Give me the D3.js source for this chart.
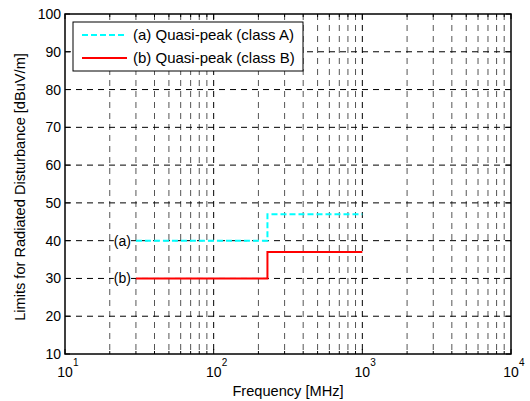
<!DOCTYPE html>
<head>
    <title>Radiated Disturbance Limits</title>
    <script src="https://d3js.org/d3.v7.min.js"></script>
    <style>
        body{
            margin: 0;
            background: #fff;
        }
        svg{
            display: block;
            font-family: "Liberation Sans", Arial, sans-serif;
        }
    </style>
</head>
<body>
    <svg id="chart" width="530" height="401"></svg>
    <script>
        // Limits (frequency in MHz, level in dBuV/m)
        var classAFreq = [30, 230, 230, 1000];
        var classALevel = [40, 40, 47, 47];
        var classBFreq = [30, 230, 230, 1000];
        var classBLevel = [30, 30, 37, 37];
        var yTicks = [10, 20, 30, 40, 50, 60, 70, 80, 90, 100];
        var xDecades = [1, 2, 3, 4];
        var legendLabels = ["(a) Quasi-peak (class A)", "(b) Quasi-peak (class B)"];

        var svg = d3.select("svg");
        // plot box (window.top is reserved, so prefixed names)
        var pL = 65, pR = 511, pT = 14, pB = 354;
        var fs = "14.6px";

        var x = d3.scaleLog().domain([10, 10000]).range([pL, pR]);
        var y = d3.scaleLinear().domain([10, 100]).range([pB, pT]);

        // all log grid positions (major + minor)
        var xGrid = [];
        for (var d = 1; d < 4; d++) {
            for (var m = 1; m < 10; m++) xGrid.push(m * Math.pow(10, d));
        }
        xGrid.push(10000);

        var g = svg.append("g");

        // vertical grid (skip the frame edges)
        g.selectAll(".vgrid")
            .data(xGrid.filter(v => v > 10 && v < 10000))
            .enter()
            .append("line")
                .attr("x1", v => x(v)).attr("x2", v => x(v))
                .attr("y1", pT).attr("y2", pB)
                .style("stroke", v => [100, 1000].includes(v) ? "#000" : "#555")
                .style("stroke-width", 1)
                .style("stroke-dasharray", "6,5");

        // horizontal grid
        g.selectAll(".hgrid")
            .data(yTicks.filter(v => v > 10 && v < 100))
            .enter()
            .append("line")
                .attr("x1", pL).attr("x2", pR)
                .attr("y1", v => y(v)).attr("y2", v => y(v))
                .style("stroke", "#000")
                .style("stroke-width", 1)
                .style("stroke-dasharray", "6,5");

        // tick marks inward on all four sides
        xGrid.forEach(function(v){
            var len = Number.isInteger(Math.log10(v)) ? 5 : 3;
            g.append("line").attr("x1", x(v)).attr("x2", x(v)).attr("y1", pB).attr("y2", pB - len).style("stroke", "#000");
            g.append("line").attr("x1", x(v)).attr("x2", x(v)).attr("y1", pT).attr("y2", pT + len).style("stroke", "#000");
        });
        yTicks.forEach(function(v){
            g.append("line").attr("x1", pL).attr("x2", pL + 5).attr("y1", y(v)).attr("y2", y(v)).style("stroke", "#000");
            g.append("line").attr("x1", pR).attr("x2", pR - 5).attr("y1", y(v)).attr("y2", y(v)).style("stroke", "#000");
        });

        // frame
        g.append("rect")
            .attr("x", pL).attr("y", pT)
            .attr("width", pR - pL).attr("height", pB - pT)
            .style("fill", "none")
            .style("stroke", "#000")
            .style("stroke-width", 1.5);

        // data lines
        var line = d3.line().x(d => x(d[0])).y(d => y(d[1]));

        g.append("path")
            .datum(d3.zip(classAFreq, classALevel))
            .attr("d", line)
            .style("fill", "none")
            .style("stroke", "#00ffff")
            .style("stroke-width", 2)
            .style("stroke-dasharray", "6,3");

        g.append("path")
            .datum(d3.zip(classBFreq, classBLevel))
            .attr("d", line)
            .style("fill", "none")
            .style("stroke", "#ff0000")
            .style("stroke-width", 2);

        // (a) / (b) labels with white background
        [["(a)", classAFreq[0], classALevel[0]], ["(b)", classBFreq[0], classBLevel[0]]].forEach(function(l){
            var t = g.append("text")
                .attr("x", x(l[1]) - 5).attr("y", y(l[2]) + 5)
                .attr("text-anchor", "end").style("font-size", "14px")
                .text(l[0]);
            var bb = t.node().getBBox();
            g.insert("rect", "text")
                .attr("x", bb.x).attr("y", bb.y + 1)
                .attr("width", bb.width).attr("height", bb.height - 2)
                .style("fill", "#fff");
        });

        // y tick labels
        g.selectAll(".ylab")
            .data(yTicks)
            .enter()
            .append("text")
                .attr("x", pL - 4).attr("y", v => y(v) + 5)
                .attr("text-anchor", "end")
                .style("font-size", "14px")
                .text(v => v);

        // x tick labels 10^n
        xDecades.forEach(function(p){
            var px = x(Math.pow(10, p));
            g.append("text")
                .attr("x", px).attr("y", pB + 23)
                .attr("text-anchor", "middle")
                .style("font-size", "14px")
                .text("10");
            g.append("text")
                .attr("x", px + 8).attr("y", pB + 12)
                .style("font-size", "10px")
                .text(p);
        });

        // axis titles
        g.append("text")
            .attr("x", 288).attr("y", 396)
            .attr("text-anchor", "middle")
            .style("font-size", fs)
            .text("Frequency [MHz]");
        g.append("text")
            .attr("transform", "translate(25,187) rotate(-90)")
            .attr("text-anchor", "middle")
            .style("font-size", fs)
            .text("Limits for Radiated Disturbance [dBuV/m]");

        // legend
        var lg = g.append("g");
        lg.append("rect")
            .attr("x", 73).attr("y", 22).attr("width", 230).attr("height", 49)
            .style("fill", "#fff").style("stroke", "#000").style("stroke-width", 1);
        var legColors = ["#00ffff", "#ff0000"];
        var legDash = ["6,3", null];
        legendLabels.forEach(function(lbl, i){
            var yy = 35 + i * 23;
            lg.append("line")
                .attr("x1", 82).attr("x2", 127).attr("y1", yy).attr("y2", yy)
                .style("stroke", legColors[i]).style("stroke-width", 2)
                .style("stroke-dasharray", legDash[i]);
            lg.append("text")
                .attr("x", 133).attr("y", yy + 5)
                .style("font-size", "15px")
                .text(lbl);
        });
    </script>
</body>
</html>
